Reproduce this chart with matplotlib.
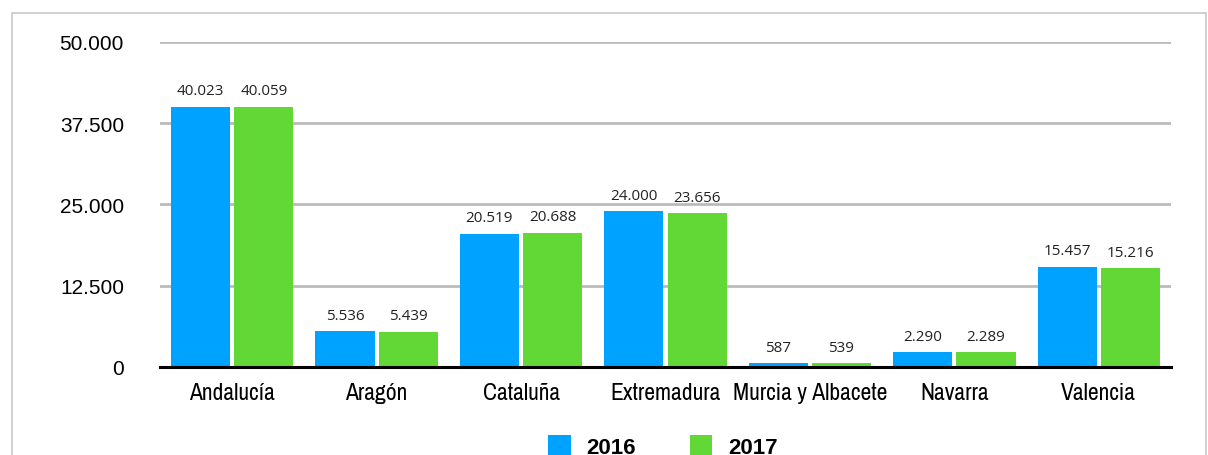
import matplotlib.pyplot as plt
import matplotlib.patches as mpatches
import numpy as np

regiones = ['Andalucía', 'Aragón', 'Cataluña', 'Extremadura', 'Murcia y Albacete', 'Navarra', 'Valencia']
v2016 = [40023, 5536, 20519, 24000, 587, 2290, 15457]
v2017 = [40059, 5439, 20688, 23656, 539, 2289, 15216]
yticks = [0, 12500, 25000, 37500, 50000]

c16 = '#00a2ff'
c17 = '#61d836'


def fmt(v):
    # separador de miles con punto
    return f'{v:,}'.replace(',', '.')


fig = plt.figure(figsize=(12.08, 4.56), dpi=100)
ax = fig.add_axes([160 / 1208, 1 - 368 / 456, 1011 / 1208, 325 / 456])

# marco gris exterior
fig.patches.append(mpatches.Rectangle((12 / 1208, -0.1), 1194 / 1208, 1.1 - 14 / 456,
                                      transform=fig.transFigure, fill=False,
                                      edgecolor='#c8c8c8', lw=1.2))

x = np.arange(len(regiones))
w = 0.41
b1 = ax.bar(x - w / 2 - 0.014, v2016, w, color=c16, label='2016')
b2 = ax.bar(x + w / 2 + 0.014, v2017, w, color=c17, label='2017')

for bars, vals in [(b1, v2016), (b2, v2017)]:
    for r, v in zip(bars, vals):
        ax.text(r.get_x() + r.get_width() / 2, v + 1300, fmt(v), ha='center', va='bottom',
                fontsize=11, family=['Open Sans', 'DejaVu Sans'], color='#222222')

ax.set_xlim(-0.5, len(regiones) - 0.5)
ax.set_ylim(0, 50000)
ax.set_yticks(yticks)
ax.set_yticklabels([fmt(t) for t in yticks], fontsize=15, family=['Liberation Sans', 'DejaVu Sans'])
ax.set_xticks(x)
ax.set_xticklabels(regiones, fontsize=17, family=['Archivo Narrow', 'Roboto', 'DejaVu Sans'])
ax.tick_params(axis='y', length=0, pad=26)
ax.tick_params(axis='x', length=0, pad=11)
ax.grid(axis='y', color='#bbbbbb', lw=2)
ax.set_axisbelow(True)
for s in ['top', 'right', 'left']:
    ax.spines[s].set_visible(False)
ax.spines['bottom'].set_linewidth(2.2)
ax.spines['bottom'].set_zorder(5)

fig.legend(handles=[b1, b2], loc='upper center', bbox_to_anchor=(663 / 1208, 40 / 456),
           ncol=2, frameon=False, handlelength=1.0, handleheight=1.0, columnspacing=2.45,
           handletextpad=0.7, prop={'family': 'Liberation Sans', 'weight': 'bold', 'size': 16})

fig.savefig('out.png', dpi=100)
